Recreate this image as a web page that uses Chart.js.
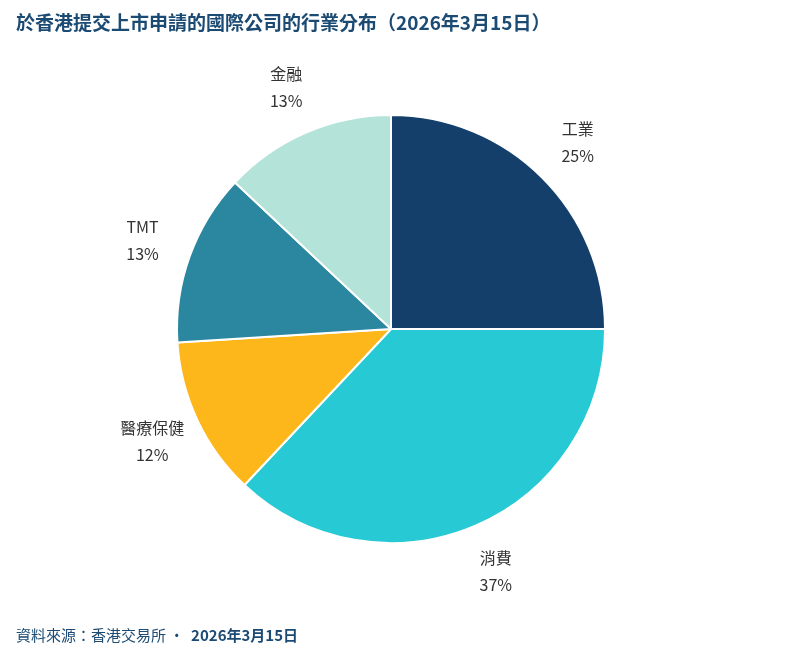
<!DOCTYPE html>
<html><head><meta charset="utf-8">
<script src="https://cdn.jsdelivr.net/npm/chart.js@4"></script>
<style>
body{margin:0;width:800px;height:658px;position:relative;background:#fff;font-family:"Noto Sans CJK TC","Noto Sans",sans-serif;overflow:hidden}
#t{position:absolute;left:16px;top:8px;font-size:19px;font-weight:bold;color:#1b4a73}
#f{position:absolute;left:16px;top:624px;font-size:15px;color:#1b4a73}
#f b{font-weight:bold}
#c{position:absolute;left:0;top:0}
</style></head><body>
<canvas id="c" width="800" height="658"></canvas>
<div id="t">於香港提交上市申請的國際公司的行業分布（2026年3月15日）</div>
<div id="f">資料來源：香港交易所 ·&nbsp; <b>2026年3月15日</b></div>
<script>
const categories=["工業","消費","醫療保健","TMT","金融"];
const values=[25,37,12,13,13];
const colors=["#143f6b","#26c9d4","#fdb71a","#2b87a0","#b3e3d9"];
const labelPlugin={id:"lbl",afterDatasetsDraw(chart){
 const ctx=chart.ctx;const meta=chart.getDatasetMeta(0);
 ctx.save();ctx.font='16px "Noto Sans CJK TC","Noto Sans",sans-serif';ctx.fillStyle="#333";ctx.textAlign="center";ctx.textBaseline="middle";
 meta.data.forEach((arc,i)=>{const a=(arc.startAngle+arc.endAngle)/2;const r=arc.outerRadius+50;
  const x=arc.x+Math.cos(a)*r,y=arc.y+Math.sin(a)*r;
  ctx.fillText(categories[i],x,y-13);ctx.fillText(values[i]+"%",x,y+14);});
 ctx.restore();}};
new Chart(document.getElementById("c"),{type:"pie",
 data:{labels:categories,datasets:[{data:values,backgroundColor:colors,borderColor:"#fff",borderWidth:2}]},
 options:{responsive:false,animation:false,layout:{padding:{left:176,right:194,top:114,bottom:114}},
  plugins:{legend:{display:false},tooltip:{enabled:false}}},
 plugins:[labelPlugin]});
</script></body></html>
